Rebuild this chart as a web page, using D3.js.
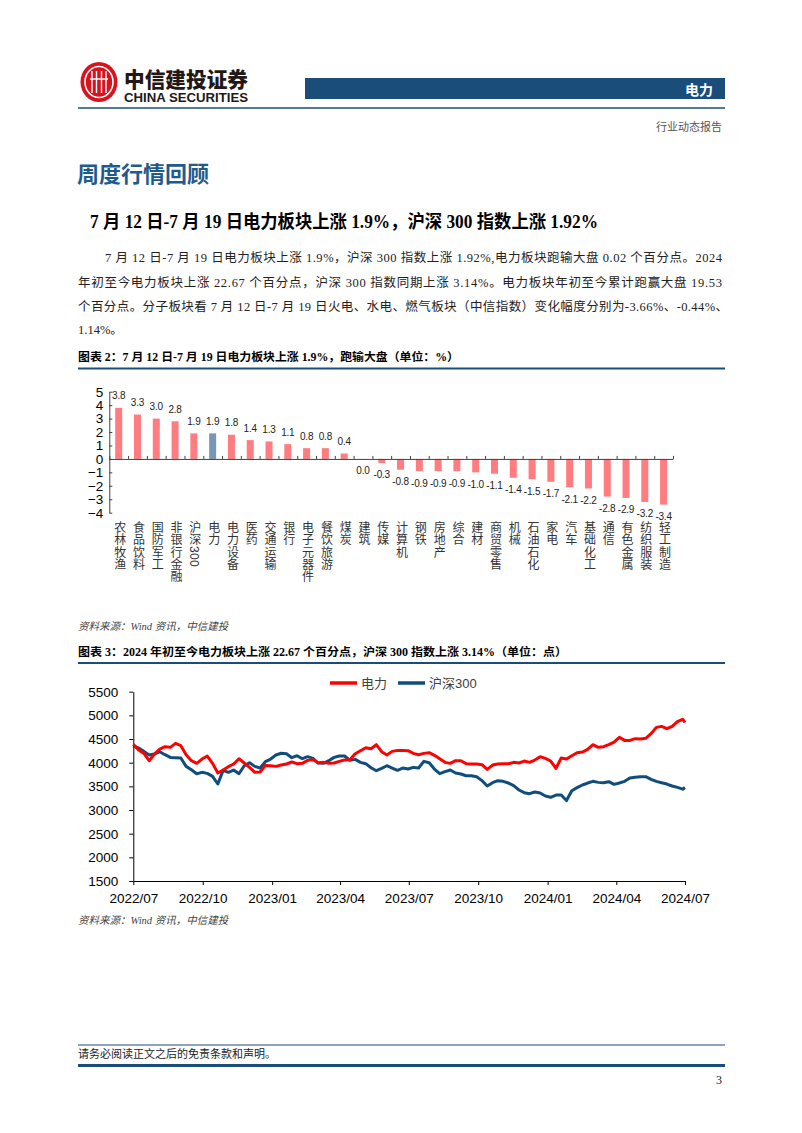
<!DOCTYPE html>
<html><head><meta charset="utf-8">
<script src="https://cdn.jsdelivr.net/npm/d3@7"></script>
<style>
body{margin:0;background:#fff;}
svg{display:block;}
.serif{font-family:"Liberation Serif","Noto Sans CJK SC",serif;}
.sans{font-family:"Liberation Sans",Arial,"Noto Sans CJK SC",sans-serif;}
.vert{writing-mode:vertical-rl;text-orientation:mixed;}
</style></head>
<body>
<svg id="page" width="802" height="1133"></svg>
<script>
// ---------- data ----------
const categories = ["农林牧渔","食品饮料","国防军工","非银行金融","沪深300","电力","电力设备","医药","交通运输","银行","电子元器件","餐饮旅游","煤炭","建筑","传媒","计算机","钢铁","房地产","综合","建材","商贸零售","机械","石油石化","家电","汽车","基础化工","通信","有色金属","纺织服装","轻工制造"];
const weeklyChange = [3.8,3.3,3.0,2.8,1.9,1.9,1.8,1.4,1.3,1.1,0.8,0.8,0.4,0.0,-0.3,-0.8,-0.9,-0.9,-0.9,-1.0,-1.1,-1.4,-1.5,-1.7,-2.1,-2.2,-2.8,-2.9,-3.2,-3.4];
const highlightCategory = "电力";
const barYTicks = [-4,-3,-2,-1,0,1,2,3,4,5];

const lineDates = ["2022-07-19","2022-07-26","2022-08-02","2022-08-09","2022-08-16","2022-08-23","2022-08-30","2022-09-06","2022-09-13","2022-09-20","2022-09-27","2022-10-04","2022-10-11","2022-10-18","2022-10-25","2022-11-01","2022-11-08","2022-11-15","2022-11-22","2022-11-29","2022-12-06","2022-12-13","2022-12-20","2022-12-27","2023-01-03","2023-01-10","2023-01-17","2023-01-24","2023-01-31","2023-02-07","2023-02-14","2023-02-21","2023-02-28","2023-03-07","2023-03-14","2023-03-21","2023-03-28","2023-04-04","2023-04-11","2023-04-18","2023-04-25","2023-05-02","2023-05-09","2023-05-16","2023-05-23","2023-05-30","2023-06-06","2023-06-13","2023-06-20","2023-06-27","2023-07-04","2023-07-11","2023-07-18","2023-07-25","2023-08-01","2023-08-08","2023-08-15","2023-08-22","2023-08-29","2023-09-05","2023-09-12","2023-09-19","2023-09-26","2023-10-03","2023-10-10","2023-10-17","2023-10-24","2023-10-31","2023-11-07","2023-11-14","2023-11-21","2023-11-28","2023-12-05","2023-12-12","2023-12-19","2023-12-26","2024-01-02","2024-01-09","2024-01-16","2024-01-23","2024-01-30","2024-02-06","2024-02-13","2024-02-20","2024-02-27","2024-03-05","2024-03-12","2024-03-19","2024-03-26","2024-04-02","2024-04-09","2024-04-16","2024-04-23","2024-04-30","2024-05-07","2024-05-14","2024-05-21","2024-05-28","2024-06-04","2024-06-11","2024-06-18","2024-06-25","2024-07-02","2024-07-09","2024-07-16","2024-07-19"];
const powerIndex = [4390,4267,4197,4042,4183,4288,4338,4324,4408,4359,
 4169,4042,3986,4077,4141,3986,3782,3845,3915,3972,
 4084,3993,3901,3796,3803,3943,3936,3922,3950,3972,
 4014,3979,3986,4049,4063,4000,4007,3986,3993,4028,
 4056,4063,4190,4253,4317,4295,4380,4232,4162,4239,
 4260,4260,4253,4197,4169,4197,4211,4155,4084,4007,
 3986,4042,4042,3979,3972,3972,3957,3859,3950,3972,
 3979,3979,4007,3993,4035,4007,4056,4127,4091,4035,
 3880,4098,4077,4148,4211,4225,4281,4380,4324,4338,
 4380,4436,4535,4471,4471,4507,4500,4514,4612,4746,
 4767,4718,4767,4866,4915,4850];
const hs300Index = [4350,4310,4239,4162,4183,4232,4169,4112,4105,4098,
 3922,3852,3767,3796,3774,3711,3550,3838,3796,3845,
 3767,3936,4000,3922,3887,4021,4077,4162,4200,4190,
 4105,4148,4084,4127,4091,3993,3986,4042,4112,4141,
 4141,4049,4070,4007,3979,3894,3831,3880,3936,3887,
 3838,3887,3866,3901,3887,4028,4000,3866,3767,3810,
 3845,3782,3760,3725,3725,3704,3620,3507,3577,3620,
 3606,3570,3514,3423,3366,3345,3380,3359,3296,3268,
 3317,3317,3200,3408,3472,3528,3570,3606,3584,3577,
 3598,3542,3570,3606,3676,3690,3704,3704,3648,3606,
 3577,3549,3507,3479,3440,3475];
const seriesNames = ["电力","沪深300"];
const lineXTicks = ["2022-07-19","2022-10-19","2023-01-19","2023-04-19","2023-07-19","2023-10-19","2024-01-19","2024-04-19","2024-07-19"];
const lineYTicks = [1500,2000,2500,3000,3500,4000,4500,5000,5500];

// ---------- page ----------
const svg = d3.select("#page");
svg.append("rect").attr("width",802).attr("height",1133).attr("fill","#fff");
const NAVY = "#1b4d7a";

// logo
const logo = svg.append("g").attr("transform","translate(99,82)");
logo.append("ellipse").attr("rx",18.5).attr("ry",20).attr("fill","#d7141e");
logo.append("ellipse").attr("rx",14).attr("ry",15.5).attr("fill","none").attr("stroke","#fff").attr("stroke-width",1.6);
[-7,-2.5,2.5,7].forEach(dx=>{
  logo.append("line").attr("x1",dx).attr("x2",dx).attr("y1",-11).attr("y2",11).attr("stroke","#fff").attr("stroke-width",1.4);
});
logo.append("line").attr("x1",-9).attr("x2",9).attr("y1",-3).attr("y2",-3).attr("stroke","#fff").attr("stroke-width",1.4);
svg.append("text").attr("x",124).attr("y",87).attr("textLength",124).attr("lengthAdjust","spacingAndGlyphs")
  .attr("font-family","'Noto Sans CJK SC'").attr("font-weight",900).attr("font-size",21).attr("fill","#231815").text("中信建投证券");
svg.append("text").attr("x",124).attr("y",102).attr("textLength",124).attr("lengthAdjust","spacingAndGlyphs")
  .attr("class","sans").attr("font-weight",700).attr("font-size",12.5).attr("fill","#231815").text("CHINA SECURITIES");

svg.append("rect").attr("x",305).attr("y",78).attr("width",420).attr("height",21).attr("fill",NAVY);
svg.append("text").attr("x",713).attr("y",94.5).attr("text-anchor","end").attr("font-family","'Noto Sans CJK SC'")
  .attr("font-weight",700).attr("font-size",14).attr("fill","#fff").text("电力");
svg.append("line").attr("x1",78).attr("x2",725).attr("y1",108).attr("y2",108).attr("stroke",NAVY).attr("stroke-width",1.5);
svg.append("text").attr("x",722).attr("y",131).attr("text-anchor","end").attr("font-family","'Noto Sans CJK SC'")
  .attr("font-size",11).attr("fill","#555").text("行业动态报告");

svg.append("text").attr("x",77).attr("y",181.5).attr("font-family","'Noto Sans CJK SC'").attr("font-weight",700)
  .attr("font-size",22).attr("fill","#1f5a8c").text("周度行情回顾");

svg.append("text").attr("x",90).attr("y",227.5).attr("class","serif").attr("font-weight",700).attr("font-size",18)
  .attr("textLength",508).attr("lengthAdjust","spacingAndGlyphs").attr("fill","#000")
  .text("7 月 12 日-7 月 19 日电力板块上涨 1.9%，沪深 300 指数上涨 1.92%");

const para = [
  {x:105, w:617, t:"7 月 12 日-7 月 19 日电力板块上涨 1.9%，沪深 300 指数上涨 1.92%,电力板块跑输大盘 0.02 个百分点。2024", y:262},
  {x:78, w:644, t:"年初至今电力板块上涨 22.67 个百分点，沪深 300 指数同期上涨 3.14%。电力板块年初至今累计跑赢大盘 19.53", y:287},
  {x:78, w:650, t:"个百分点。分子板块看 7 月 12 日-7 月 19 日火电、水电、燃气板块（中信指数）变化幅度分别为-3.66%、-0.44%、", y:311},
  {x:78, w:null, t:"1.14%。", y:334}
];
para.forEach(p=>{
  const t = svg.append("text").attr("x",p.x).attr("y",p.y).attr("class","serif").attr("font-size",12.5).attr("fill","#222").text(p.t);
  if(p.w) t.attr("textLength",p.w).attr("lengthAdjust","spacing");
});

function chartTitle(y, txt, w){
  svg.append("text").attr("x",78).attr("y",y).attr("class","serif").attr("font-weight",700).attr("font-size",11.5)
    .attr("textLength",w).attr("lengthAdjust","spacingAndGlyphs").attr("fill","#000").text(txt);
  svg.append("line").attr("x1",78).attr("x2",725).attr("y1",y+7.5).attr("y2",y+7.5).attr("stroke",NAVY).attr("stroke-width",2);
}
function source(y){
  svg.append("text").attr("x",78).attr("y",y).attr("class","serif").attr("font-style","italic").attr("font-size",10.5)
    .attr("fill","#444").text("资料来源：Wind 资讯，中信建投");
}
chartTitle(361, "图表 2：7 月 12 日-7 月 19 日电力板块上涨 1.9%，跑输大盘（单位：%）", 381);
source(630);
chartTitle(655.5, "图表 3：2024 年初至今电力板块上涨 22.67 个百分点，沪深 300 指数上涨 3.14%（单位：点）", 489);
source(924);

// ---------- bar chart ----------
const bx = d3.scaleBand().domain(categories).range([109.3, 673]);
const by = d3.scaleLinear().domain([-4,5]).range([512.7, 391.7]);
const bar = svg.append("g");
bar.selectAll("rect.bar").data(categories).join("rect")
  .attr("x",(d)=>bx(d)+bx.bandwidth()/2-3.5).attr("width",7)
  .attr("y",(d,i)=>by(Math.max(0,weeklyChange[i])))
  .attr("height",(d,i)=>Math.abs(by(weeklyChange[i])-by(0)))
  .attr("fill",d=>d===highlightCategory?"#7896b6":"#ff7c80");

const yAxisBar = bar.append("g").attr("transform","translate(109.3,0)")
  .call(d3.axisLeft(by).tickValues(barYTicks).tickSizeInner(-3).tickSizeOuter(0).tickPadding(6).tickFormat(d3.format("d")));
yAxisBar.selectAll("text").attr("class","sans").attr("font-size",13.5).attr("fill","#000");
yAxisBar.selectAll("line,path").attr("stroke","#404040");

const bIdx = d3.scaleLinear().domain([0,categories.length]).range([109.3,673]);
const xAxisBar = bar.append("g").attr("transform",`translate(0,${by(0)})`)
  .call(d3.axisBottom(bIdx).tickValues(d3.range(categories.length+1)).tickSizeInner(-3).tickSizeOuter(0).tickFormat(""));
xAxisBar.selectAll("line,path").attr("stroke","#404040");

bar.selectAll("text.val").data(categories).join("text").attr("class","sans")
  .attr("x",d=>bx(d)+bx.bandwidth()/2)
  .attr("y",(d,i)=>weeklyChange[i]>0 ? by(weeklyChange[i])-8.5 : by(weeklyChange[i])+15.5)
  .attr("text-anchor","middle").attr("font-size",10).attr("letter-spacing",-0.2).attr("fill","#222")
  .text((d,i)=>weeklyChange[i].toFixed(1));

// vertical category labels (latin digits rotate, as in the original)
bar.selectAll("text.cat").data(categories).join("text")
  .attr("class","vert")
  .attr("x",d=>bx(d)+bx.bandwidth()/2)
  .attr("y",521.5)
  .attr("font-family","'Liberation Sans','Noto Sans CJK SC'")
  .attr("font-size",12).attr("letter-spacing",0.3).attr("fill","#333")
  .text(d=>d);

// ---------- line chart ----------
const parse = d3.timeParse("%Y-%m-%d");
const lx = d3.scaleTime().domain([parse(lineXTicks[0]), parse(lineXTicks[lineXTicks.length-1])]).range([133.3,685]);
const ly = d3.scaleLinear().domain([1500,5500]).range([881,691.7]);
const lc = svg.append("g");
const yAxL = lc.append("g").attr("transform","translate(133.3,0)")
  .call(d3.axisLeft(ly).tickValues(lineYTicks).tickSizeInner(4).tickSizeOuter(0).tickPadding(11).tickFormat(d3.format("d")));
const xAxL = lc.append("g").attr("transform","translate(0,881)")
  .call(d3.axisBottom(lx).tickValues(lineXTicks.map(parse)).tickSizeInner(4).tickSizeOuter(0).tickPadding(8).tickFormat(d3.timeFormat("%Y/%m")));
[yAxL,xAxL].forEach(a=>{
  a.selectAll("text").attr("class","sans").attr("font-size",13.5).attr("fill","#000");
  a.selectAll("line,path").attr("stroke","#000").attr("stroke-width",1);
});
const seriesList = [
  {name:seriesNames[0], vals:powerIndex, color:"#ff0000"},
  {name:seriesNames[1], vals:hs300Index, color:"#0f4d7c"}
];
const lineGen = d3.line().x((d)=>lx(parse(d[0]))).y(d=>ly(d[1]));
seriesList.slice().reverse().forEach(s=>{
  lc.append("path").datum(lineDates.map((d,i)=>[d,s.vals[i]]))
    .attr("d",lineGen).attr("fill","none").attr("stroke",s.color).attr("stroke-width",3).attr("stroke-linejoin","round");
});
// legend
const legendX = [330, 398];
seriesList.forEach((s,i)=>{
  lc.append("line").attr("x1",legendX[i]).attr("x2",legendX[i]+27).attr("y1",683).attr("y2",683)
    .attr("stroke",s.color).attr("stroke-width",3.5);
  lc.append("text").attr("x",legendX[i]+31).attr("y",688).attr("class","sans").attr("font-size",13)
    .attr("fill","#404040").text(s.name);
});

// ---------- footer ----------
svg.append("line").attr("x1",78).attr("x2",725).attr("y1",1045).attr("y2",1045).attr("stroke",NAVY).attr("stroke-width",1);
svg.append("text").attr("x",78).attr("y",1057.5).attr("class","serif").attr("font-size",11).attr("fill","#222").text("请务必阅读正文之后的免责条款和声明。");
svg.append("line").attr("x1",78).attr("x2",725).attr("y1",1065.5).attr("y2",1065.5).attr("stroke",NAVY).attr("stroke-width",3);
svg.append("text").attr("x",722).attr("y",1084).attr("text-anchor","end").attr("class","serif").attr("font-size",12).attr("fill","#222").text("3");
</script>
</body></html>
